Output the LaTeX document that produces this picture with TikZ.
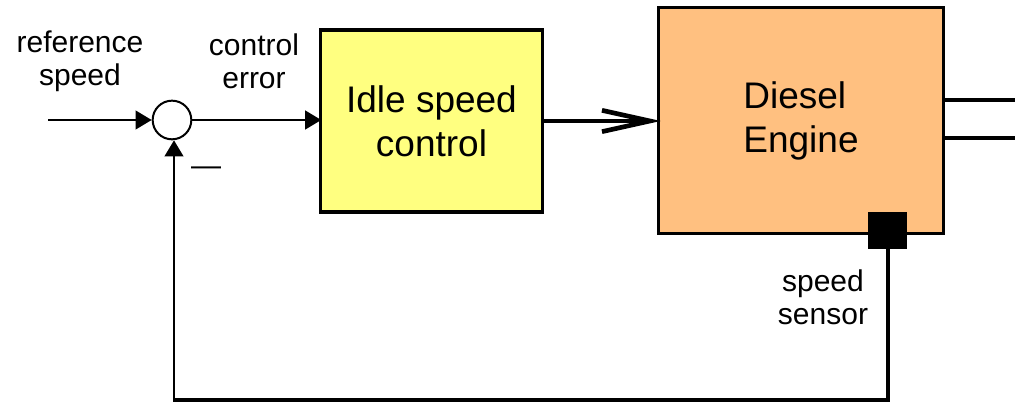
\documentclass[tikz,border=0pt]{standalone}
\usepackage{fontspec}
\setmainfont{Liberation Sans}
\usetikzlibrary{arrows.meta,positioning}
\definecolor{ctrlyellow}{HTML}{FFFF80}
\definecolor{engorange}{HTML}{FFC080}
\tikzset{
  lbl/.style={align=center,font=\fontsize{22.5pt}{24.75pt}\selectfont,inner sep=0pt},
  blocktxt/.style={font=\fontsize{27.75pt}{33pt}\selectfont},
  sig/.style={line width=1.5pt,-{Triangle[length=12pt,width=14pt]}},
  blockbox/.style={draw,line width=2.4pt,inner sep=0pt}
}
\begin{document}
\begin{tikzpicture}[x=0.75pt,y=-0.75pt]
\useasboundingbox (0,0) rectangle (1015,402);
% summing junction
\node[draw,circle,line width=1.5pt,minimum size=29pt,inner sep=0pt] (sum) at (172,120) {};
% blocks
\node[blockbox,fill=ctrlyellow,minimum width=167pt,minimum height=136.5pt,align=center,blocktxt] (ctrl) at (431.5,121) {Idle speed\\control};
\node[blockbox,fill=engorange,minimum width=214pt,minimum height=170pt,align=left,blocktxt] (eng) at (801,120.5) {Diesel\\Engine};
\node[fill=black,minimum width=29pt,minimum height=28pt,inner sep=0pt] (sensor) at (887.5,230.5) {};
% labels
\node[lbl] (reflbl) at (80,61) {reference\\speed};
\node[lbl] (errlbl) at (254,61) {control\\error};
\node[lbl] (senslbl) at (823,297) {speed\\sensor};
\node[lbl] (minus) at (206,171) {—};
% coordinates
\coordinate (in) at (48,120);
\coordinate (out1) at (1015,100);
\coordinate (out2) at (1015,138);
\coordinate (c1) at (887.5,400);
\coordinate (c2) at (174,400);
% connectors
\draw[sig] (in) -- (sum.west);
\draw[sig] (sum.east) -- ([xshift=2pt]ctrl.west |- sum.east);
\draw[line width=2.4pt,-{Straight Barb[length=36pt,width=16pt,line width=3.5pt]}] (ctrl.east |- 0,121) -- ([xshift=3pt]eng.west |- 0,121);
\draw[line width=2.4pt] (eng.east |- out1) -- (out1);
\draw[line width=2.4pt] (eng.east |- out2) -- (out2);
\draw[line width=3pt] (sensor.south) -- (c1) -- ([xshift=-1pt]c2);
\draw[sig] (c2) -- (c2 |- sum.south);
\end{tikzpicture}
\end{document}
